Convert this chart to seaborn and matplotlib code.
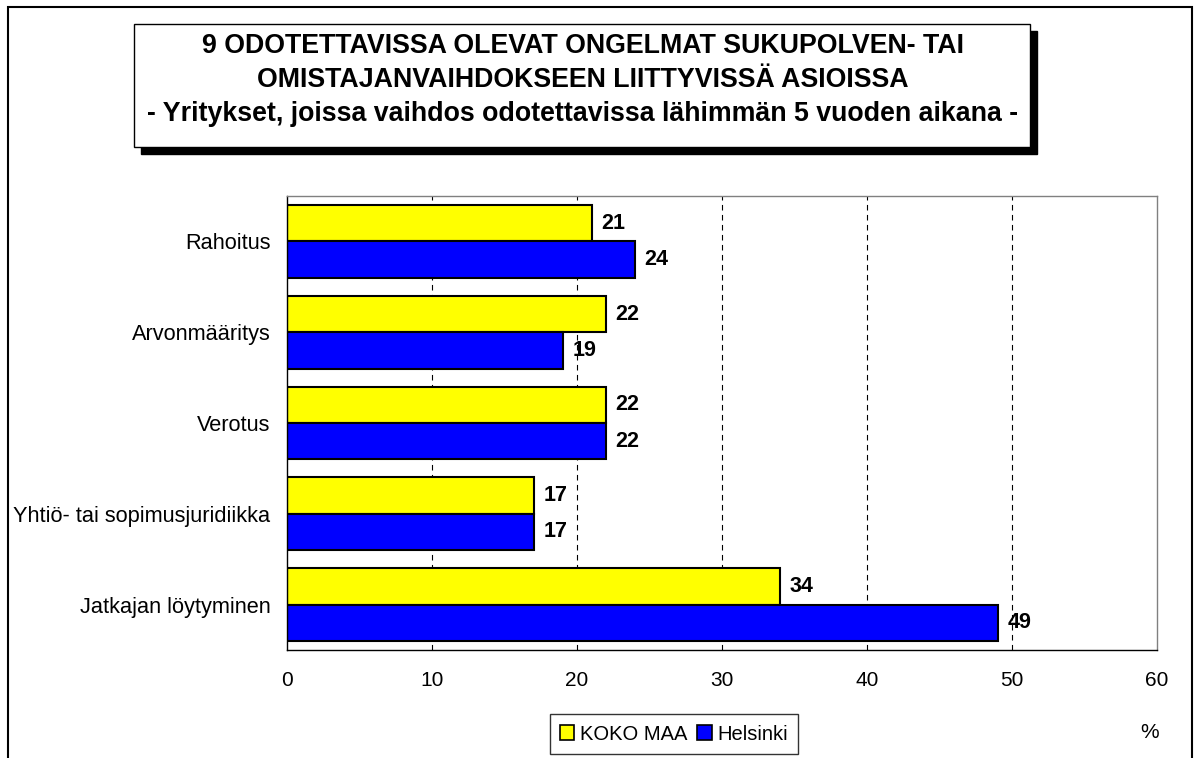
import pandas as pd
import matplotlib.pyplot as plt
import seaborn as sns
from matplotlib.patches import Rectangle

#Chart data
categories = ['Rahoitus', 'Arvonmääritys', 'Verotus', 'Yhtiö- tai sopimusjuridiikka', 'Jatkajan löytyminen']
koko_maa = [21, 22, 22, 17, 34]
helsinki = [24, 19, 22, 17, 49]
series = ['KOKO MAA', 'Helsinki']
x_ticks = [0, 10, 20, 30, 40, 50, 60]

title_lines = ['9 ODOTETTAVISSA OLEVAT ONGELMAT SUKUPOLVEN- TAI',
               'OMISTAJANVAIHDOKSEEN LIITTYVISSÄ ASIOISSA',
               '- Yritykset, joissa vaihdos odotettavissa lähimmän 5 vuoden aikana -']

df = pd.DataFrame({
    'Ongelma': categories * 2,
    'Sarja': [series[0]] * len(categories) + [series[1]] * len(categories),
    'Osuus': koko_maa + helsinki,
})

#Style
sns.set_style("white")
plt.rcParams['font.family'] = ['Liberation Sans', 'DejaVu Sans']
plt.rcParams['text.color'] = 'black'
plt.rcParams['xtick.color'] = 'black'
plt.rcParams['ytick.color'] = 'black'
plt.rcParams['axes.labelcolor'] = 'black'

W, H = 1196, 758
fig = plt.figure(figsize=(W / 100, H / 100), dpi=100)
ax = fig.add_axes([287 / W, 1 - 650 / H, (1157 - 287) / W, (650 - 196) / H])

sns.barplot(data=df, y='Ongelma', x='Osuus', hue='Sarja', order=categories,
            hue_order=series, palette=['#FFFF00', '#0000FF'], orient='h',
            edgecolor='black', linewidth=1.5, saturation=1, width=0.8,
            errorbar=None, legend=False, ax=ax)

for c in ax.containers:
    ax.bar_label(c, fmt='%d', padding=7, fontsize=15.5, fontweight='bold')

#Axes
ax.set_xlim(0, 60)
ax.set_ylim(4.5, -0.5)
ax.set_xticks(x_ticks)
ax.set_xticklabels([str(t) for t in x_ticks], fontsize=15)
ax.set_xlabel('')
ax.set_ylabel('')
ax.tick_params(axis='y', which='major', length=0, labelsize=15.7, pad=12)
ax.set_yticks([i - 0.5 for i in range(len(categories) + 1)], minor=True)
ax.tick_params(axis='y', which='minor', length=6, width=1, color='black', direction='out')
ax.tick_params(axis='x', which='major', length=6, width=1, color='black', direction='inout', pad=12)
for x in x_ticks[1:-1]:
    ax.axvline(x, color='black', linestyle=(0, (5, 4)), linewidth=0.8, zorder=0)
ax.spines['left'].set_color('black')
ax.spines['bottom'].set_color('black')
ax.spines['top'].set_color('#808080')
ax.spines['right'].set_color('#808080')
for s in ax.spines.values():
    s.set_linewidth(1)

#Outer frame
fig.patches.append(Rectangle((8 / W, -0.1), (1192 - 8) / W, 1.1 - 7 / H,
                             transform=fig.transFigure, fill=False,
                             edgecolor='black', linewidth=1.5))

#Title box with shadow
bx0, bx1, by0, by1 = 134, 1030, 24, 147
fig.patches.append(Rectangle(((bx0 + 7) / W, 1 - (by1 + 7) / H), (bx1 - bx0) / W, (by1 - by0) / H,
                             transform=fig.transFigure, facecolor='black', edgecolor='black'))
fig.patches.append(Rectangle((bx0 / W, 1 - by1 / H), (bx1 - bx0) / W, (by1 - by0) / H,
                             transform=fig.transFigure, facecolor='white', edgecolor='black', linewidth=1))
for y, line in zip([46, 80, 114], title_lines):
    fig.text(583 / W, 1 - y / H, line, ha='center', va='center',
             fontsize=19.3, fontweight='bold')

#Legend
handles = [Rectangle((0, 0), 1, 1, facecolor=col, edgecolor='black', linewidth=1.2)
           for col in ['#FFFF00', '#0000FF']]
fig.legend(handles, series, loc='center', bbox_to_anchor=(674 / W, 1 - 734 / H),
           ncol=2, fontsize=14.5, frameon=True, fancybox=False, edgecolor='black',
           handlelength=0.7, handleheight=0.7, handletextpad=0.3, columnspacing=0.5,
           borderpad=0.5)

fig.text(1150 / W, 1 - 733 / H, '%', ha='center', va='center', fontsize=15)

fig.savefig('out.png', dpi=100)
